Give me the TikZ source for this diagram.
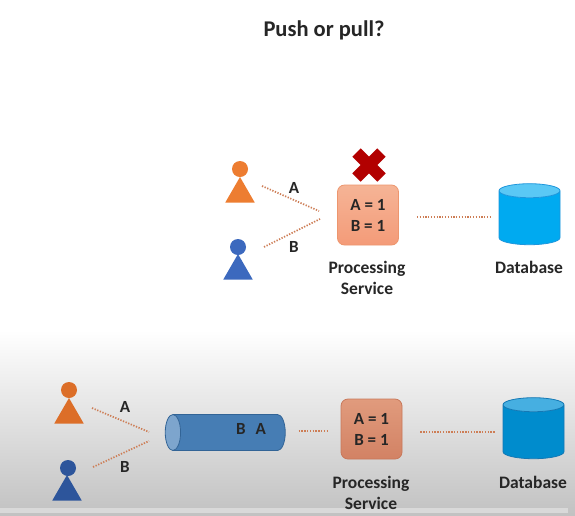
\documentclass[tikz,border=0pt]{standalone}
\usepackage{fontspec}
\setmainfont{Carlito}
\usetikzlibrary{shapes.geometric,shapes.misc}
\definecolor{dotline}{RGB}{205,125,85}
\definecolor{userorange}{RGB}{237,125,49}
\definecolor{userorangedim}{RGB}{220,110,40}
\definecolor{userblue}{RGB}{60,105,190}
\definecolor{userbluedim}{RGB}{45,85,155}
\definecolor{boxtop}{RGB}{245,180,150}
\definecolor{boxbottom}{RGB}{244,155,120}
\definecolor{boxedge}{RGB}{237,150,110}
\definecolor{boxtopdim}{RGB}{225,155,125}
\definecolor{boxbottomdim}{RGB}{210,130,100}
\definecolor{boxedgedim}{RGB}{200,120,90}
\definecolor{dbbody}{RGB}{0,170,240}
\definecolor{dbend}{RGB}{90,200,245}
\definecolor{dbedge}{RGB}{30,150,220}
\definecolor{dbbodydim}{RGB}{0,140,205}
\definecolor{dbenddim}{RGB}{70,175,225}
\definecolor{dbedgedim}{RGB}{20,120,180}
\definecolor{pipebody}{RGB}{70,125,180}
\definecolor{pipeend}{RGB}{125,165,205}
\definecolor{pipeedge}{RGB}{50,100,150}
\begin{document}
\begin{tikzpicture}[x=1pt,y=-1pt,
    head/.style={circle,inner sep=0pt,minimum size=16pt},
    body/.style={regular polygon,regular polygon sides=3,inner sep=0pt,minimum size=34pt},
    link/.style={dash pattern=on 1.3pt off 1.5pt,line width=1.7pt,color=dotline},
    service/.style={rounded corners=7pt,minimum width=61pt,minimum height=60pt,align=center,line width=.8pt},
    store/.style={cylinder,shape border rotate=90,aspect=2.1,minimum width=61pt,minimum height=61pt,
      cylinder uses custom fill,line width=.8pt},
    caption/.style={align=center,font=\fontsize{17.5}{21}\selectfont\bfseries,text=black!85}]
    \tikzstyle{every node}=[font=\fontsize{17}{21}\selectfont\bfseries,text=black!85]
    \useasboundingbox (0,0) rectangle (575,515);
    \fill[white] (0,0) rectangle (575,330);
    \shade[top color=white,bottom color=black!24] (0,330) rectangle (575,515);
    \fill[black!15] (0,508) rectangle (568,513);

    \node[caption,font=\fontsize{22.5}{24}\selectfont\bfseries] (title) at (324,30) {Push or pull?};

    \node[head,fill=userorange] (headA) at (240,169) {};
    \node[body,fill=userorange] (userA) at (240,194) {};
    \node[head,fill=userblue] (headB) at (238,247) {};
    \node[body,fill=userblue] (userB) at (238,271) {};
    \coordinate (outA) at (262,186);
    \coordinate (inA) at (319,211);
    \coordinate (outB) at (264,247);
    \coordinate (inB) at (320,219);
    \draw[link] (outA) -- (inA);
    \draw[link] (outB) -- (inB);
    \node (labelA) at (294,188) {A};
    \node (labelB) at (294,247) {B};
    \node[service,draw=boxedge,top color=boxtop,bottom color=boxbottom] (serviceTop) at (368,215) {A = 1\\B = 1};
    \node[cross out,draw=red!70!black,line width=12pt,minimum size=25pt,inner sep=0pt,outer sep=0pt] (cross) at (369,165) {};
    \node[store,draw=dbedge,cylinder body fill=dbbody,cylinder end fill=dbend] (dbTop) at (529.5,219.5) {};
    \draw[link,shorten <=18pt,shorten >=7pt] ([yshift=-2pt]serviceTop.east) -- ([yshift=-2pt]serviceTop.east -| dbTop.west);
    \node[caption] (procTop) at (367,278) {Processing\\Service};
    \node[caption] (nameTop) at (529,267) {Database};

    \node[head,fill=userorangedim] (headC) at (69,390) {};
    \node[body,fill=userorangedim] (userC) at (69,415) {};
    \node[head,fill=userbluedim] (headD) at (68,468) {};
    \node[body,fill=userbluedim] (userD) at (67,492) {};
    \coordinate (outC) at (92,408);
    \coordinate (inC) at (149,432);
    \coordinate (outD) at (93,467);
    \coordinate (inD) at (149,441);
    \draw[link] (outC) -- (inC);
    \draw[link] (outD) -- (inD);
    \node (labelC) at (125,407) {A};
    \node (labelD) at (125,467) {B};
    \node[cylinder,shape border rotate=180,aspect=2.3,minimum width=36pt,minimum height=120pt,draw=pipeedge,line width=.8pt,
      cylinder uses custom fill,cylinder body fill=pipebody,cylinder end fill=pipeend] (pipe) at (231.5,432.5) {};
    \node (pipeText) at (251,429) {B\hspace{10pt}A};
    \node[service,draw=boxedgedim,top color=boxtopdim,bottom color=boxbottomdim] (serviceLow) at (371.5,429) {A = 1\\B = 1};
    \node[store,draw=dbedgedim,cylinder body fill=dbbodydim,cylinder end fill=dbenddim] (dbLow) at (533.5,433.5) {};
    \draw[link,shorten <=13pt,shorten >=12pt] ([yshift=-2pt]serviceLow.west -| pipe.east) -- ([yshift=-2pt]serviceLow.west);
    \draw[link,shorten <=18pt,shorten >=7pt] ([yshift=-3pt]serviceLow.east) -- ([yshift=-3pt]serviceLow.east -| dbLow.west);
    \node[caption] (procLow) at (371,492.5) {Processing\\Service};
    \node[caption] (nameLow) at (533,482) {Database};
\end{tikzpicture}
\end{document}
